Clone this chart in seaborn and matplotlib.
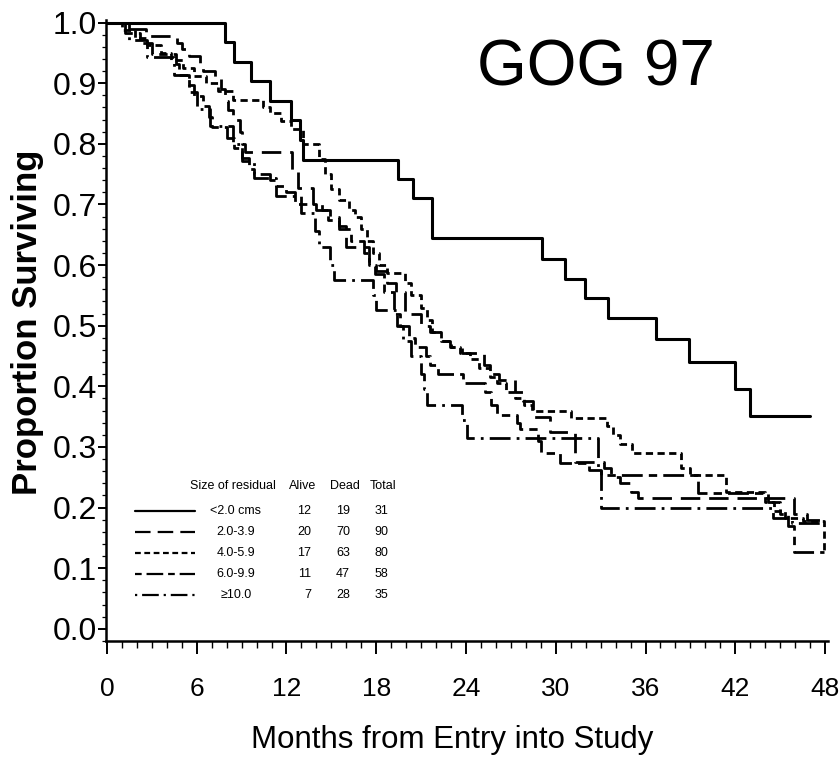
import pandas as pd
import matplotlib
matplotlib.use("Agg")
import matplotlib.pyplot as plt
from matplotlib.lines import Line2D
from matplotlib.ticker import MultipleLocator
import seaborn as sns

# ── Data (GOG 97) ───────────────────────────────────────────────
groups = ["<2.0 cms", "2.0-3.9", "4.0-5.9", "6.0-9.9", "\u226510.0"]
alive = [12, 20, 17, 11, 7]
dead = [19, 70, 63, 47, 28]
total = [31, 90, 80, 58, 35]

t_lt2 = [0, 7.9, 8.5, 9.6, 10.9, 12.3, 12.9, 13.1, 19.45, 20.45, 21.7, 29.1, 30.6,
         31.95, 33.5, 36.7, 38.9, 42.0, 43.0, 47.0]
s_lt2 = [1.0, 0.968, 0.935, 0.903, 0.871, 0.839, 0.806, 0.774, 0.742, 0.710, 0.645,
         0.610, 0.577, 0.545, 0.512, 0.478, 0.440, 0.396, 0.351, 0.351]

t_2to4 = [0, 1.2, 2.6, 4.7, 5.0, 5.5, 6.2, 6.4, 7.2, 7.6, 7.9, 8.1, 8.4, 8.9, 9.0, 9.2,
          12.4, 12.8, 13.8, 14.4, 14.9, 15.5, 16.0, 17.5, 18.0, 18.7, 19.3, 19.9, 21.0,
          21.6, 22.3, 22.9, 23.7, 25.2, 25.6, 26.2, 27.3, 27.8, 28.5, 29.6, 31.3, 33.2,
          33.7, 34.3, 35.0, 35.5, 45.9, 46.8, 47.9]
s_2to4 = [1.0, 0.989, 0.978, 0.967, 0.956, 0.944, 0.933, 0.92, 0.91, 0.89, 0.87, 0.856,
          0.84, 0.82, 0.80, 0.787, 0.755, 0.727, 0.70, 0.69, 0.68, 0.665, 0.63, 0.60,
          0.59, 0.57, 0.555, 0.52, 0.50, 0.49, 0.475, 0.465, 0.455, 0.435, 0.42, 0.41,
          0.39, 0.375, 0.35, 0.325, 0.275, 0.265, 0.25, 0.24, 0.226, 0.216, 0.19, 0.18, 0.18]

t_4to6 = [0, 1.0, 1.9, 2.7, 3.6, 4.3, 5.1, 5.8, 6.6, 7.4, 8.4, 10.4, 10.9, 11.6, 12.3,
          13.1, 14.2, 14.6, 15.0, 15.5, 16.2, 16.6, 17.0, 17.4, 17.8, 18.2, 18.7, 19.9,
          20.3, 21.0, 21.4, 21.7, 22.3, 23.0, 23.6, 24.3, 24.9, 25.6, 26.1, 26.7, 27.3,
          27.9, 28.4, 31.0, 33.4, 33.8, 34.3, 35.1, 38.4, 39.0, 41.4, 44.0, 44.6, 45.3,
          46.5, 47.9, 47.95]
s_4to6 = [1.0, 0.988, 0.975, 0.963, 0.95, 0.938, 0.925, 0.912, 0.90, 0.887, 0.872, 0.86,
          0.85, 0.838, 0.825, 0.80, 0.775, 0.75, 0.725, 0.707, 0.69, 0.68, 0.66, 0.64,
          0.62, 0.60, 0.587, 0.57, 0.55, 0.53, 0.51, 0.49, 0.475, 0.465, 0.455, 0.445,
          0.43, 0.415, 0.405, 0.39, 0.38, 0.37, 0.36, 0.348, 0.335, 0.32, 0.305, 0.29,
          0.265, 0.254, 0.226, 0.21, 0.195, 0.183, 0.178, 0.125, 0.125]

t_6to10 = [0, 1.2, 2.2, 3.0, 4.6, 4.8, 5.5, 5.8, 6.4, 6.8, 7.0, 8.0, 8.5, 9.0, 9.5, 9.8,
           10.9, 11.3, 12.0, 12.6, 14.0, 14.8, 15.5, 16.3, 17.2, 17.5, 17.9, 18.5, 19.2,
           19.6, 20.2, 20.6, 21.3, 21.6, 22.1, 23.8, 25.3, 25.7, 26.1, 27.4, 27.6, 28.8,
           29.0, 30.3, 32.2, 33.0, 39.5, 44.2, 45.0, 45.5, 45.9, 47.9]
s_6to10 = [1.0, 0.983, 0.966, 0.948, 0.931, 0.914, 0.897, 0.879, 0.862, 0.845, 0.828,
           0.81, 0.793, 0.776, 0.759, 0.75, 0.74, 0.73, 0.72, 0.70, 0.69, 0.675, 0.66,
           0.64, 0.62, 0.60, 0.585, 0.555, 0.52, 0.50, 0.48, 0.465, 0.45, 0.435, 0.42,
           0.405, 0.39, 0.37, 0.353, 0.34, 0.33, 0.31, 0.29, 0.274, 0.262, 0.254, 0.224,
           0.21, 0.19, 0.17, 0.127, 0.127]

t_ge10 = [0, 1.5, 2.7, 4.5, 5.5, 6.0, 6.9, 8.4, 9.0, 9.8, 11.3, 13.0, 13.9, 14.2, 14.9,
          15.2, 17.8, 18.0, 19.4, 19.8, 20.3, 21.0, 21.2, 21.4, 23.7, 24.1, 32.8, 33.0,
          44.5, 45.8, 47.9]
s_ge10 = [1.0, 0.971, 0.943, 0.914, 0.886, 0.857, 0.829, 0.80, 0.771, 0.743, 0.714,
          0.686, 0.657, 0.629, 0.60, 0.575, 0.55, 0.526, 0.50, 0.475, 0.45, 0.42, 0.395,
          0.37, 0.345, 0.315, 0.26, 0.20, 0.183, 0.175, 0.175]

curves = [(t_lt2, s_lt2), (t_2to4, s_2to4), (t_4to6, s_4to6),
          (t_6to10, s_6to10), (t_ge10, s_ge10)]

rows = []
for g, (tt, ss) in zip(groups, curves):
    for a, b in zip(tt, ss):
        rows.append({"month": a, "surv": b, "group": g})
df = pd.DataFrame(rows)

# line styles (in units of linewidth)
dash_map = {
    "<2.0 cms": "",
    "2.0-3.9": (7.0, 3.2),
    "4.0-5.9": (2.6, 1.6),
    "6.0-9.9": (3.0, 2.2, 7.5, 2.2),
    "\u226510.0": (1.0, 2.2, 7.5, 2.2),
}

# ── Figure ───────────────────────────────────────────────────────
sns.set_style("ticks")
plt.rcParams["font.family"] = ["Liberation Sans", "DejaVu Sans"]
plt.rcParams.update({"text.color": "black", "axes.labelcolor": "black",
                     "xtick.color": "black", "ytick.color": "black",
                     "axes.edgecolor": "black"})

W, H = 840, 762
fig = plt.figure(figsize=(W / 100, H / 100), dpi=100)
ax = fig.add_axes([105.5 / W, 1 - 641 / H, 722.5 / W, 621.5 / H])

sns.lineplot(data=df, x="month", y="surv", style="group", style_order=groups,
             dashes=dash_map, color="black", linewidth=2.0, drawstyle="steps-post",
             estimator=None, sort=False, legend=False, ax=ax)
ax.lines[0].set_linewidth(2.2)

ax.set_xlim(-0.1, 48.2)
ax.set_ylim(-0.02, 1.005)
ax.xaxis.set_major_locator(MultipleLocator(6))
ax.xaxis.set_minor_locator(MultipleLocator(1))
ax.yaxis.set_minor_locator(MultipleLocator(0.02))
ax.set_yticks([i / 10 for i in range(11)])
ax.set_yticklabels([f"{i / 10:.1f}" for i in range(11)])

for sp in ["top", "right"]:
    ax.spines[sp].set_visible(False)
for sp in ["left", "bottom"]:
    ax.spines[sp].set_linewidth(1.8)
    ax.spines[sp].set_color("black")

ax.tick_params(axis="x", which="major", length=9, width=1.4, pad=17, labelsize=19)
ax.tick_params(axis="x", which="minor", length=5, width=1.0)
ax.tick_params(axis="y", which="major", length=6, width=1.4, pad=0, labelsize=23)
ax.tick_params(axis="y", which="minor", length=3, width=0.9)

ax.set_xlabel("Months from Entry into Study", fontsize=22.5)
ax.set_ylabel("Proportion Surviving", fontsize=25, fontweight="bold")
ax.xaxis.set_label_coords((452 - 105.5) / 722.5, (641 - 740) / 621.5)
ax.xaxis.label.set_va("center")
ax.yaxis.set_label_coords((28 - 105.5) / 722.5, (641 - 322) / 621.5)
ax.yaxis.label.set_va("center")

fig.text(596 / W, 1 - 85 / H, "GOG 97", ha="center", va="baseline", fontsize=46)

# ── Legend table ────────────────────────────────────────────────
def fx(px):
    return px / W

def fy(py):
    return 1 - py / H

hdr_y = 486
fs = 9
fig.text(fx(190), fy(hdr_y), "Size of residual", fontsize=fs, va="center")
fig.text(fx(303), fy(hdr_y), "Alive", fontsize=fs, va="center", ha="center")
fig.text(fx(345), fy(hdr_y), "Dead", fontsize=fs, va="center", ha="center")
fig.text(fx(383), fy(hdr_y), "Total", fontsize=fs, va="center", ha="center")
for i, g in enumerate(groups):
    ry = 511 + 21 * i
    ls = dash_map[g]
    ln = Line2D([fx(135), fx(195)], [fy(ry), fy(ry)], color="black",
                linewidth=1.6, transform=fig.transFigure)
    if ls != "":
        ln.set_dashes(ls)
    fig.add_artist(ln)
    fig.text(fx(236), fy(ry), g, fontsize=fs, va="center", ha="center")
    fig.text(fx(311), fy(ry), str(alive[i]), fontsize=fs, va="center", ha="right")
    fig.text(fx(350), fy(ry), str(dead[i]), fontsize=fs, va="center", ha="right")
    fig.text(fx(388), fy(ry), str(total[i]), fontsize=fs, va="center", ha="right")

plt.savefig("out.png", dpi=100)
